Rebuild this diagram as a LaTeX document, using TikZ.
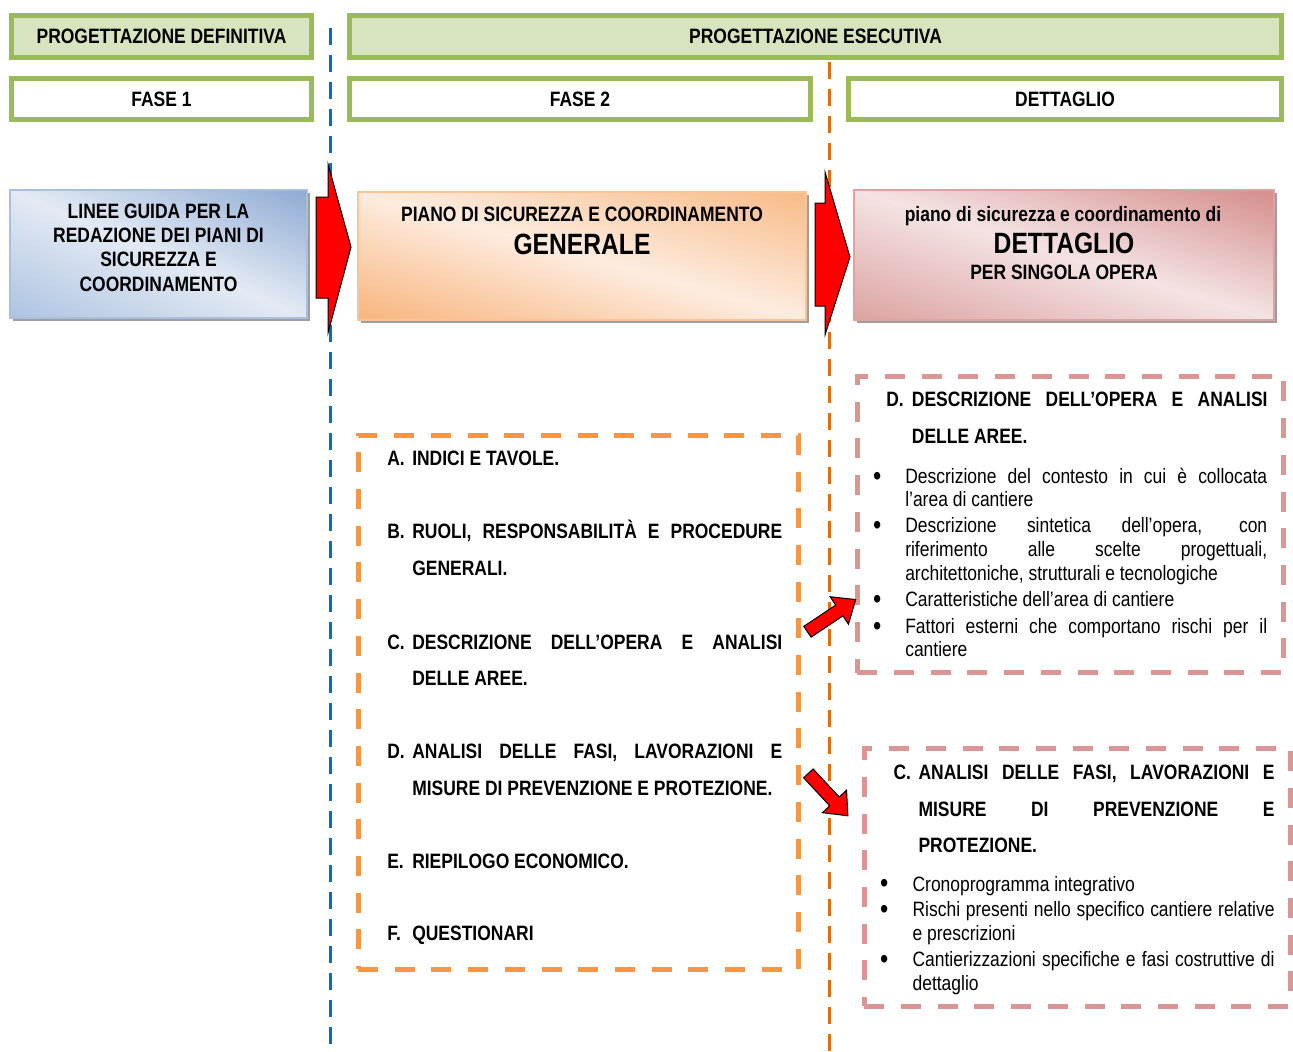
\documentclass[tikz,border=0pt]{standalone}
\usepackage{fontspec}
\setmainfont{Liberation Sans}[FakeStretch=0.84]
\usetikzlibrary{shapes.arrows,shadows,calc}
\definecolor{grnB}{HTML}{9BBB59}
\definecolor{grnF}{HTML}{D7E4BD}
\definecolor{lineblue}{HTML}{0070C0}
\definecolor{lineorange}{HTML}{E46C0A}
\definecolor{boxorange}{HTML}{F79646}
\definecolor{boxpink}{HTML}{D99694}
\definecolor{blueD}{HTML}{8DAAD3}
\definecolor{blueL}{HTML}{E3EAF4}
\definecolor{blueM}{HTML}{ADC3E1}
\definecolor{blueB}{HTML}{A9BFDC}
\definecolor{orT}{HTML}{F8BA86}
\definecolor{orM}{HTML}{FDECDF}
\definecolor{orB}{HTML}{F8B47C}
\definecolor{orBd}{HTML}{F9C596}
\definecolor{pkT}{HTML}{D48C8B}
\definecolor{pkM}{HTML}{F4E3E3}
\definecolor{pkB}{HTML}{DCA2A1}
\definecolor{pkBd}{HTML}{DDA3A2}
\newdimen\PX \PX=0.75pt
\newcommand{\jline}[2]{\makebox[#1\PX][s]{#2}}
\begin{document}
\begin{tikzpicture}[x=0.75pt,y=-0.75pt,
  hdr/.style={draw=grnB, line width=5\PX, fill=grnF, inner sep=0pt,
    font=\fontsize{15.6}{18}\selectfont\bfseries},
  fase/.style={hdr, fill=white},
  txt/.style={inner sep=0pt, font=\fontsize{15.6}{18}\selectfont},
  btxt/.style={inner sep=0pt, font=\fontsize{15.6}{18.2}\selectfont\bfseries},
  big/.style={inner sep=0pt, font=\fontsize{22}{26}\selectfont\bfseries},
  ln/.style={txt, anchor=base west},
  bln/.style={btxt, anchor=base west},
  bul/.style={inner sep=0pt, anchor=base, font=\fontsize{21}{21}\selectfont},
  shadowed/.style={drop shadow={shadow xshift=2.5\PX, shadow yshift=-2.5\PX, fill=black!38, opacity=1}},
  % diagonal gradient: #1 angle, #2 half extent along axis, #3 half extent across, #4 top, #5 middle, #6 bottom
  gradfill/.style n args={6}{fill=white, path picture={
      \shade[top color=#4, bottom color=#6, middle color=#5,
        transform canvas={rotate around={#1:(path picture bounding box.center)}}]
        ($(path picture bounding box.center)+(-#3,-#2)$) rectangle ($(path picture bounding box.center)+(#3,#2)$);}},
  blueg/.style={draw=blueB, line width=1.5\PX, shadowed,
    gradfill={-23.3}{118}{166}{blueD}{blueL}{blueM}},
  orangeg/.style={draw=orBd, line width=1.5\PX, shadowed,
    gradfill={-15.9}{123}{234}{orT}{orM}{orB}},
  pinkg/.style={draw=pkBd, line width=1.5\PX, shadowed,
    gradfill={-17.2}{125}{221}{pkT}{pkM}{pkB}},
  obox/.style={draw=boxorange, line width=5\PX, dash pattern=on 20\PX off 16.7\PX},
  pbox/.style={draw=boxpink, line width=5\PX, dash pattern=on 20\PX off 16.7\PX},
  bigarrow/.style={draw=black, fill=red, line width=1\PX, line join=miter},
  sarrow/.style={single arrow, draw=black, fill=red, line width=1\PX, inner xsep=0pt, inner ysep=6\PX,
    minimum height=58\PX, minimum width=0pt, single arrow head extend=10\PX, single arrow tip angle=80}
]
\useasboundingbox (0,0) rectangle (1293,1051);

% vertical dashed separators
\coordinate (bt) at (330,28);
\coordinate (bb) at (330,1051);
\coordinate (ot) at (829,62);
\coordinate (ob) at (829,1051);
\draw[lineblue, line width=3\PX, dash pattern=on 17\PX off 10\PX] (bt) -- (bb);
\draw[lineorange, line width=3\PX, dash pattern=on 17\PX off 10\PX] (ot) -- (ob);

% header rows
\node[hdr, minimum width=300\PX, minimum height=42\PX] (hd1) at (161.5,36.5) {PROGETTAZIONE DEFINITIVA};
\node[hdr, minimum width=932\PX, minimum height=42\PX] (hd2) at (815.5,36.5) {PROGETTAZIONE ESECUTIVA};
\node[fase, minimum width=300\PX, minimum height=41\PX] (f1) at (161.5,99) {FASE 1};
\node[fase, minimum width=461\PX, minimum height=41\PX] (f2) at (580,99) {FASE 2};
\node[fase, minimum width=433\PX, minimum height=41\PX] (f3) at (1065,99) {DETTAGLIO};

% gradient boxes
\node[blueg, minimum width=297\PX, minimum height=128\PX] (lg) at (158.5,254) {};
\node[btxt, align=center] (lgt) at (158.5,247.5) {LINEE GUIDA PER LA\\REDAZIONE DEI PIANI DI\\SICUREZZA E\\COORDINAMENTO};

\node[orangeg, minimum width=448\PX, minimum height=128\PX] (gen) at (582,256) {};
\node[btxt, anchor=base] (gen1) at (582,221.5) {PIANO DI SICUREZZA E COORDINAMENTO};
\node[big, anchor=base] (gen2) at (582,254.5) {GENERALE};

\node[pinkg, minimum width=420\PX, minimum height=130\PX] (det) at (1064,255) {};
\node[btxt, anchor=base] (det1) at (1063,221.7) {piano di sicurezza e coordinamento di};
\node[big, anchor=base] (det2) at (1064,253.3) {DETTAGLIO};
\node[btxt, anchor=base] (det3) at (1064,279) {PER SINGOLA OPERA};

% big arrows
\draw[bigarrow] (316,197) -- (328,197) -- (328,164) -- (351,247) -- (328,333) -- (328,298) -- (316,298) -- cycle;
\draw[bigarrow] (815,203) -- (825,203) -- (825,172) -- (850,257) -- (825,335) -- (825,306) -- (815,306) -- cycle;

% orange dashed box (general plan contents)
\node[obox, minimum width=440\PX, minimum height=534\PX] (secgen) at (578,702) {};
\node[bln] (oa1) at (387,465.2) {A.};
\node[bln] (oa2) at (412,465.2) {INDICI E TAVOLE.};
\node[bln] (ob1) at (387,538.5) {B.};
\node[bln] (ob2) at (412,538.5) {\jline{370}{RUOLI, RESPONSABILITÀ E PROCEDURE}};
\node[bln] (ob3) at (412,575.2) {GENERALI.};
\node[bln] (oc1) at (387,649.2) {C.};
\node[bln] (oc2) at (412,649.2) {\jline{370}{DESCRIZIONE DELL’OPERA E ANALISI}};
\node[bln] (oc3) at (412,685.2) {DELLE AREE.};
\node[bln] (od1) at (387,758.5) {D.};
\node[bln] (od2) at (412,758.5) {\jline{370}{ANALISI DELLE FASI, LAVORAZIONI E}};
\node[bln] (od3) at (412,795.2) {MISURE DI PREVENZIONE E PROTEZIONE.};
\node[bln] (oe1) at (387,868.5) {E.};
\node[bln] (oe2) at (412,868.5) {RIEPILOGO ECONOMICO.};
\node[bln] (of1) at (387,940.8) {F.};
\node[bln] (of2) at (412,940.8) {QUESTIONARI};

% pink dashed box 1
\node[pbox, minimum width=426\PX, minimum height=296.7\PX] (secd) at (1070.3,524.35) {};
\node[bln] (pd1) at (886,406.7) {D.};
\node[bln] (pd2) at (911.7,406.7) {\jline{355.6}{DESCRIZIONE DELL’OPERA E ANALISI}};
\node[bln] (pd3) at (911.7,443.3) {DELLE AREE.};
\node[bul] (pb1) at (877.3,485) {•};
\node[bul] (pb2) at (877.3,534.4) {•};
\node[bul] (pb3) at (877.3,608.4) {•};
\node[bul] (pb4) at (877.3,635) {•};
\node[ln] (pt1) at (905,483.3) {\jline{362}{Descrizione del contesto in cui è collocata}};
\node[ln] (pt2) at (905,506.7) {l’area di cantiere};
\node[ln] (pt3) at (905,532.7) {\jline{362}{Descrizione sintetica dell’opera, con}};
\node[ln] (pt4) at (905,556.7) {\jline{362}{riferimento alle scelte progettuali,}};
\node[ln] (pt5) at (905,580.7) {architettoniche, strutturali e tecnologiche};
\node[ln] (pt6) at (905,606.7) {Caratteristiche dell’area di cantiere};
\node[ln] (pt7) at (905,633.3) {\jline{362}{Fattori esterni che comportano rischi per il}};
\node[ln] (pt8) at (905,656.7) {cantiere};

% pink dashed box 2
\node[pbox, minimum width=425.7\PX, minimum height=257.7\PX] (secc) at (1077.15,877.15) {};
\node[bln] (qc1) at (893.3,779) {C.};
\node[bln] (qc2) at (918.3,779) {\jline{356}{ANALISI DELLE FASI, LAVORAZIONI E}};
\node[bln] (qc3) at (918.3,816) {\jline{356}{MISURE DI PREVENZIONE E}};
\node[bln] (qc4) at (918.3,852.3) {PROTEZIONE.};
\node[bul] (qb1) at (884.3,892.7) {•};
\node[bul] (qb2) at (884.3,918.4) {•};
\node[bul] (qb3) at (884.3,968.4) {•};
\node[ln] (qt1) at (912.3,891) {Cronoprogramma integrativo};
\node[ln] (qt2) at (912.3,916.7) {\jline{362}{Rischi presenti nello specifico cantiere relative}};
\node[ln] (qt3) at (912.3,940.7) {e prescrizioni};
\node[ln] (qt4) at (912.3,966.7) {\jline{362}{Cantierizzazioni specifiche e fasi costruttive di}};
\node[ln] (qt5) at (912.3,990) {dettaglio};

% small block arrows
\node[sarrow, rotate=33.7, anchor=tail] (ar1) at (807,632) {};
\node[sarrow, rotate=-47, anchor=tail] (ar2) at (808,773) {};
\end{tikzpicture}
\end{document}
